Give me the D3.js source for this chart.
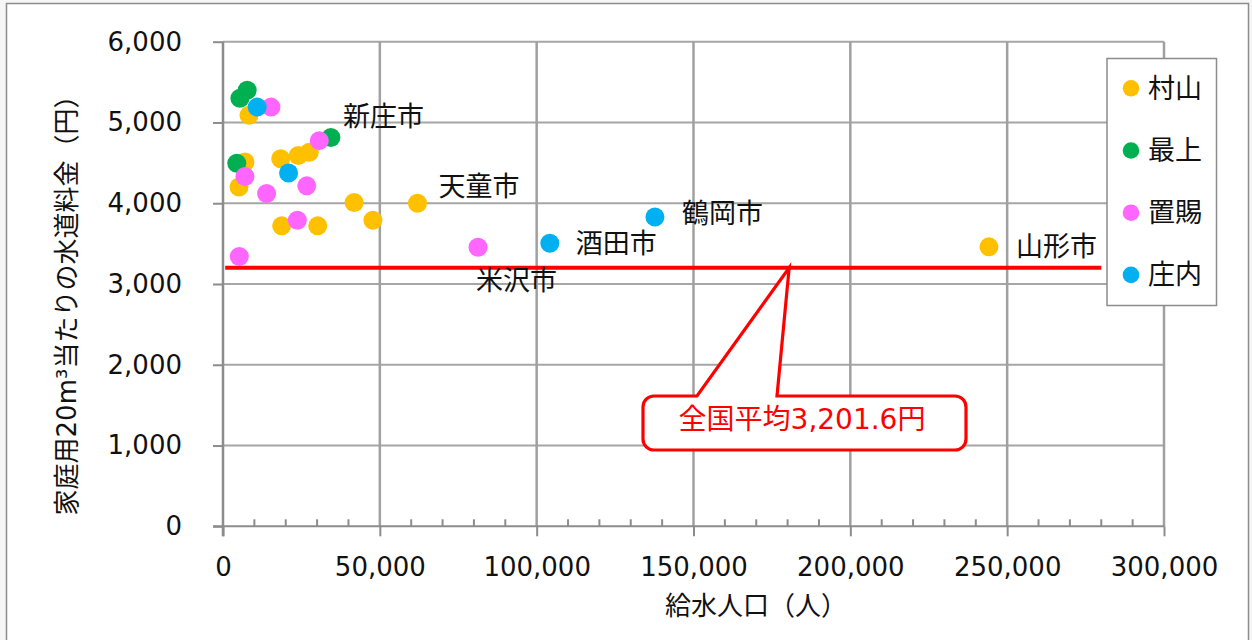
<!DOCTYPE html>
<html lang="ja">
<head>
<meta charset="utf-8">
<script src="https://cdn.jsdelivr.net/npm/d3@7"></script>
<style>
  html, body { margin: 0; padding: 0; background: #f6f6f6; }
  svg { display: block; }
  .num { font-family: "DejaVu Sans", "Noto Sans CJK JP", sans-serif; }
  .jp { font-family: "DejaVu Sans", "Noto Sans CJK JP", sans-serif; }
</style>
</head>
<body>
<svg id="chart" width="1252" height="640"></svg>
<script>
// 地域（凡例）と配色
const regions = ["村山", "最上", "置賜", "庄内"];
const regionColors = ["#ffc000", "#00b050", "#ff66ff", "#00b0f0"];

// 各地域の事業体： [給水人口(人), 家庭用20m³当たり水道料金(円)]
const murayama = [
  [8300, 5090], [27500, 4630], [24000, 4590], [18400, 4550], [7000, 4510],
  [5100, 4200], [18700, 3720], [30200, 3720], [41800, 4010], [47800, 3790],
  [62000, 4000], [244200, 3460]
];
const mogami = [[7700, 5400], [5400, 5300], [34400, 4815], [4400, 4495]];
const okitama = [
  [15300, 5190], [30700, 4775], [26700, 4215], [13900, 4120], [7000, 4330],
  [23700, 3790], [5200, 3340], [81300, 3455]
];
const shonai = [[10900, 5190], [20900, 4375], [104200, 3505], [137700, 3830]];
const seriesValues = [murayama, mogami, okitama, shonai];

// 市名ラベル： [地域番号, 事業体番号, 名称]
const cityLabels = [
  [1, 2, "新庄市"], [0, 10, "天童市"], [3, 2, "酒田市"],
  [3, 3, "鶴岡市"], [2, 7, "米沢市"], [0, 11, "山形市"]
];

// 全国平均
const nationalAverage = 3201.6;
const averageSpan = [700, 280000];
const calloutAnchorX = 180500;

// 軸目盛
const xTicks = [0, 50000, 100000, 150000, 200000, 250000, 300000];
const xMinorTicks = d3.range(10000, 300000, 10000).filter(v => v % 50000 !== 0);
const yTicks = [0, 1000, 2000, 3000, 4000, 5000, 6000];
const xTitle = "給水人口（人）";
const yTitle = "家庭用20m³当たりの水道料金（円）";

// ---- レイアウト ----
const plot = { left: 223, right: 1164, top: 41.7, bottom: 526.3 };
const labelOffsets = {
  "新庄市": [12, -21], "天童市": [21, -17], "酒田市": [26, 0],
  "鶴岡市": [27, -3], "米沢市": [-2, 33], "山形市": [27, 0]
};

const svg = d3.select("#chart");
const x = d3.scaleLinear().domain([0, 300000]).range([plot.left, plot.right]);
const y = d3.scaleLinear().domain([0, 6000]).range([plot.bottom, plot.top]);
const fmt = d3.format(",");

// チャート枠
svg.append("rect")
  .attr("x", 6.5).attr("y", 3.5).attr("width", 1242).attr("height", 645)
  .attr("fill", "#ffffff").attr("stroke", "#8c8c8c").attr("stroke-width", 1.5);

// 目盛線
const grid = svg.append("g");
grid.selectAll("line.h").data(yTicks.slice(1)).join("line")
  .attr("x1", plot.left).attr("x2", plot.right)
  .attr("y1", d => y(d)).attr("y2", d => y(d))
  .attr("stroke", "#a6a6a6").attr("stroke-width", 2);
grid.selectAll("line.v").data(xTicks.slice(1)).join("line")
  .attr("x1", d => x(d)).attr("x2", d => x(d))
  .attr("y1", plot.top).attr("y2", plot.bottom)
  .attr("stroke", "#a0a0a0").attr("stroke-width", 2.5);

// 縦軸
const yAxis = svg.append("g")
  .attr("transform", `translate(${plot.left},0)`)
  .call(d3.axisLeft(y).tickValues(yTicks).tickFormat(fmt).tickSize(10).tickPadding(31));
yAxis.select(".domain").attr("stroke", "#8c8c8c").attr("stroke-width", 2.5)
  .attr("d", `M0,${plot.top}V${plot.bottom + 10}`);
yAxis.selectAll(".tick line").attr("stroke", "#8c8c8c").attr("stroke-width", 2);
yAxis.selectAll(".tick text").attr("class", "num").attr("font-size", 26).attr("fill", "#111");

// 横軸
const xAxis = svg.append("g")
  .attr("transform", `translate(0,${plot.bottom})`)
  .call(d3.axisBottom(x).tickValues(xTicks).tickFormat(fmt).tickSize(10).tickPadding(21));
xAxis.select(".domain").attr("stroke", "#8c8c8c").attr("stroke-width", 2)
  .attr("d", `M${plot.left - 10},0H${plot.right}`);
xAxis.selectAll(".tick line").attr("stroke", "#8c8c8c").attr("stroke-width", 2);
xAxis.selectAll(".tick text").attr("class", "num").attr("font-size", 26).attr("fill", "#111");
xAxis.selectAll("line.minor").data(xMinorTicks).join("line")
  .attr("class", "minor")
  .attr("x1", d => x(d)).attr("x2", d => x(d))
  .attr("y1", 0).attr("y2", -7)
  .attr("stroke", "#8c8c8c").attr("stroke-width", 2);

// 軸タイトル
svg.append("text").attr("class", "jp")
  .attr("transform", `translate(67,${(plot.top + plot.bottom) / 2 + 15}) rotate(-90)`)
  .attr("text-anchor", "middle").attr("dominant-baseline", "central")
  .attr("font-size", 26).attr("fill", "#111").text(yTitle);
svg.append("text").attr("class", "jp")
  .attr("x", 756).attr("y", 606)
  .attr("text-anchor", "middle").attr("dominant-baseline", "central")
  .attr("font-size", 26).attr("fill", "#111").text(xTitle);

// 全国平均線
svg.append("path")
  .datum(averageSpan.map(v => [v, nationalAverage]))
  .attr("d", d3.line().x(d => x(d[0])).y(d => y(d[1])))
  .attr("stroke", "#ff0000").attr("stroke-width", 4).attr("fill", "none");

// 散布点
regions.forEach((name, i) => {
  svg.append("g").selectAll("circle").data(seriesValues[i]).join("circle")
    .attr("cx", d => x(d[0])).attr("cy", d => y(d[1])).attr("r", 9.5)
    .attr("fill", regionColors[i]);
});

// 市名
svg.append("g").selectAll("text").data(cityLabels).join("text")
  .attr("class", "jp")
  .attr("x", d => x(seriesValues[d[0]][d[1]][0]) + labelOffsets[d[2]][0])
  .attr("y", d => y(seriesValues[d[0]][d[1]][1]) + labelOffsets[d[2]][1])
  .attr("dominant-baseline", "central")
  .attr("font-size", 27).attr("fill", "#111").text(d => d[2]);

// 吹き出し
const box = { x0: 643, y0: 396, x1: 966, y1: 450, r: 11 };
const ax = x(calloutAnchorX), ay = y(nationalAverage);
const callout = d3.path();
callout.moveTo(box.x0 + box.r, box.y0);
callout.lineTo(697, box.y0);
callout.lineTo(ax, ay);
callout.lineTo(777, box.y0);
callout.lineTo(box.x1 - box.r, box.y0);
callout.arcTo(box.x1, box.y0, box.x1, box.y0 + box.r, box.r);
callout.lineTo(box.x1, box.y1 - box.r);
callout.arcTo(box.x1, box.y1, box.x1 - box.r, box.y1, box.r);
callout.lineTo(box.x0 + box.r, box.y1);
callout.arcTo(box.x0, box.y1, box.x0, box.y1 - box.r, box.r);
callout.lineTo(box.x0, box.y0 + box.r);
callout.arcTo(box.x0, box.y0, box.x0 + box.r, box.y0, box.r);
callout.closePath();
svg.append("path").attr("d", callout.toString())
  .attr("fill", "#ffffff").attr("stroke", "#ff0000").attr("stroke-width", 3.2)
  .attr("stroke-linejoin", "miter");
svg.append("text").attr("class", "jp")
  .attr("x", 802).attr("y", 419)
  .attr("text-anchor", "middle").attr("dominant-baseline", "central")
  .attr("font-size", 28).attr("fill", "#ff0000")
  .text(`全国平均${d3.format(",.1f")(nationalAverage)}円`);

// 凡例
const legend = svg.append("g");
legend.append("rect")
  .attr("x", 1107).attr("y", 58.5).attr("width", 109.5).attr("height", 247)
  .attr("fill", "#ffffff").attr("stroke", "#8c8c8c").attr("stroke-width", 1.5);
const items = legend.selectAll("g").data(regions).join("g")
  .attr("transform", (d, i) => `translate(1131,${88.3 + i * 62.2})`);
items.append("circle").attr("r", 8.3).attr("fill", (d, i) => regionColors[i]);
items.append("text").attr("class", "jp").attr("x", 17)
  .attr("dominant-baseline", "central").attr("font-size", 27).attr("fill", "#111")
  .text(d => d);
</script>
</body>
</html>
